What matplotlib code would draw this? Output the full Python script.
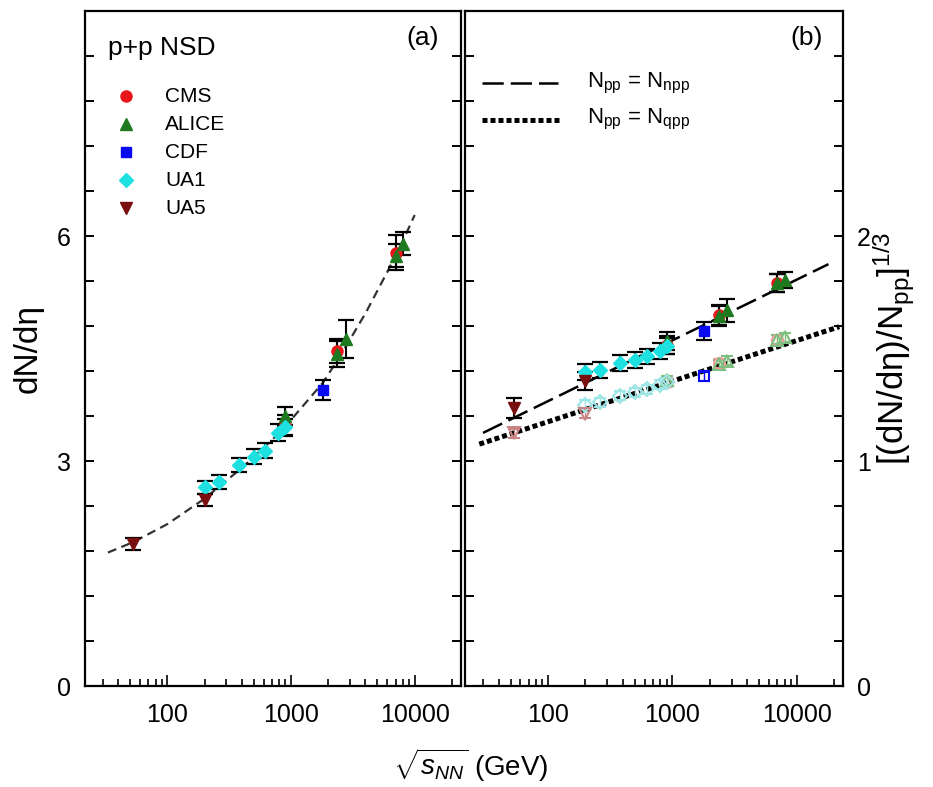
import numpy as np
import matplotlib
matplotlib.use('Agg')
import matplotlib.pyplot as plt
from matplotlib.ticker import MultipleLocator, LogLocator, FuncFormatter, NullFormatter

plt.rcParams['font.family'] = ['Liberation Sans', 'DejaVu Sans']
plt.rcParams['mathtext.fontset'] = 'custom'
plt.rcParams['mathtext.rm'] = 'Liberation Sans'
plt.rcParams['mathtext.it'] = 'Liberation Sans:italic'

# p+p NSD charged-particle density at mid-rapidity
cms_x = [900, 2360, 7000]
cms_y = [3.48, 4.47, 5.78]
cms_err = [0.13, 0.16, 0.23]

alice_x = [900, 2360, 2760, 7000, 8000]
alice_y = [3.60, 4.43, 4.63, 5.74, 5.90]
alice_err = [0.12, 0.17, 0.25, 0.15, 0.15]

cdf_x = [1800]
cdf_y = [3.95]
cdf_err = [0.13]

ua1_x = [200, 260, 380, 500, 620, 790, 900]
ua1_y = [2.65, 2.72, 2.95, 3.06, 3.14, 3.38, 3.45]
ua1_err = [0.09, 0.09, 0.09, 0.10, 0.10, 0.11, 0.11]

ua5_x = [53, 200]
ua5_y = [1.90, 2.48]
ua5_err = [0.08, 0.08]

# fit curve for panel (a)
fit_x = [33, 53, 100, 200, 400, 700, 1000, 1800, 2500, 4000, 6000, 8000, 10000]
fit_y = [1.78, 1.92, 2.16, 2.50, 2.91, 3.28, 3.55, 4.04, 4.40, 4.97, 5.52, 5.93, 6.28]

# panel (b): [(dN/deta)/Npp]^(1/3) with Npp = Nnpp (filled) and Npp = Nqpp (open)
cms_npp = [1.515, 1.648, 1.790]
cms_npp_err = [0.040, 0.045, 0.040]
alice_npp = [1.535, 1.645, 1.670, 1.790, 1.805]
alice_npp_err = [0.040, 0.045, 0.050, 0.040, 0.035]
cdf_npp = [1.578]
cdf_npp_err = [0.042]
ua1_npp = [1.395, 1.405, 1.434, 1.450, 1.465, 1.490, 1.510]
ua1_npp_err = [0.035, 0.035, 0.035, 0.035, 0.035, 0.035, 0.035]
ua5_npp = [1.235, 1.355]
ua5_npp_err = [0.045, 0.040]

cms_qpp = [1.350, 1.435, 1.540]
alice_qpp = [1.360, 1.430, 1.445, 1.540, 1.550]
cdf_qpp = [1.376]
ua1_qpp = [1.250, 1.262, 1.290, 1.305, 1.320, 1.340, 1.350]
ua5_qpp = [1.124, 1.210]

npp_line_x = [30, 18000]
npp_line_y = [1.125, 1.875]
qpp_line_x = [28, 22000]
qpp_line_y = [1.075, 1.597]

labels = ['CMS', 'ALICE', 'CDF', 'UA1', 'UA5']
colors = ['#e8161b', '#1f7a1f', '#0a0af0', '#1ee0e0', '#7a0f0f']
light = ['#f29a9a', '#7fbf7f', '#0a0af0', '#9ee6e6', '#c98585']
markers = ['o', '^', 's', 'D', 'v']
msizes = [8, 8.5, 7.5, 7, 8.5]

sets_a = [(cms_x, cms_y, cms_err), (alice_x, alice_y, alice_err), (cdf_x, cdf_y, cdf_err),
          (ua1_x, ua1_y, ua1_err), (ua5_x, ua5_y, ua5_err)]
sets_npp = [(cms_x, cms_npp, cms_npp_err), (alice_x, alice_npp, alice_npp_err),
            (cdf_x, cdf_npp, cdf_npp_err), (ua1_x, ua1_npp, ua1_npp_err),
            (ua5_x, ua5_npp, ua5_npp_err)]
sets_qpp = [(cms_x, cms_qpp), (alice_x, alice_qpp), (cdf_x, cdf_qpp),
            (ua1_x, ua1_qpp), (ua5_x, ua5_qpp)]

fig = plt.figure(figsize=(9.33, 7.87), dpi=100)
ax1 = fig.add_axes([0.0911, 0.1283, 0.4025, 0.8577])
ax2 = fig.add_axes([0.4984, 0.1283, 0.4050, 0.8577])


def style_axis(ax, ymax, major, minor, right_labels):
    ax.set_xscale('log')
    ax.set_xlim(21.5, 23500)
    ax.set_ylim(0, ymax)
    ax.xaxis.set_major_locator(LogLocator(base=10))
    ax.xaxis.set_minor_locator(LogLocator(base=10, subs=np.arange(2, 10)))
    ax.xaxis.set_major_formatter(FuncFormatter(lambda v, p: '%d' % round(v)))
    ax.xaxis.set_minor_formatter(NullFormatter())
    ax.yaxis.set_major_locator(MultipleLocator(major))
    ax.yaxis.set_minor_locator(MultipleLocator(minor))
    ax.yaxis.set_major_formatter(FuncFormatter(lambda v, p: '%d' % round(v) if v < ymax else ''))
    ax.tick_params(axis='x', which='major', direction='in', length=8, width=1.2,
                   labelsize=18, pad=12, top=False)
    ax.tick_params(axis='x', which='minor', direction='in', length=5, width=1.2, top=False)
    ax.tick_params(axis='y', which='both', direction='in', length=6.5, width=1.4,
                   left=True, right=True, labelsize=18, pad=10,
                   labelleft=not right_labels, labelright=right_labels)
    for s in ax.spines.values():
        s.set_linewidth(1.6)


style_axis(ax1, 9, 3, 0.6, False)
style_axis(ax2, 3, 1, 0.2, True)

# (a) multiplicity versus energy
ax1.plot(fit_x, fit_y, color='#333333', lw=1.6, dashes=(4, 2.5), zorder=2)
for (x, y, e), c, m, ms in zip(sets_a, colors, markers, msizes):
    ax1.errorbar(x, y, yerr=e, fmt=m, color=c, ms=ms, mec=c, ecolor='black',
                 elinewidth=1.5, capsize=6, capthick=1.6, zorder=3)

ax1.text(0.062, 0.945, 'p+p NSD', transform=ax1.transAxes, fontsize=19,
         ha='left', va='center')
for i, (lab, c, m, ms) in enumerate(zip(labels, colors, markers, msizes)):
    yy = 0.874 - i * 0.0415
    ax1.plot([0.109], [yy], marker=m, color=c, ms=ms, transform=ax1.transAxes,
             clip_on=False, zorder=4)
    ax1.text(0.213, yy, lab, transform=ax1.transAxes, fontsize=15,
             ha='left', va='center')
ax1.text(0.90, 0.96, '(a)', transform=ax1.transAxes, fontsize=19,
         ha='center', va='center')
ax1.set_ylabel('dN/dη', fontsize=24, labelpad=10)

# (b) scaled multiplicity
ax2.plot(npp_line_x, npp_line_y, color='black', lw=1.8, dashes=(8.5, 2.8), zorder=2)
ax2.plot(qpp_line_x, qpp_line_y, color='black', lw=3.6, dashes=(1.0, 0.6),
         dash_capstyle='butt', zorder=2)
for (x, y), c, lc, m, ms in zip(sets_qpp, colors, light, markers, msizes):
    ax2.errorbar(x, y, yerr=0.02, fmt=m, mfc='none', mec=lc, ms=ms, mew=1.5,
                 ecolor=lc, elinewidth=1.0, capsize=4, capthick=1.0, zorder=3)
for (x, y, e), c, m, ms in zip(sets_npp, colors, markers, msizes):
    ax2.errorbar(x, y, yerr=e, fmt=m, color=c, ms=ms, mec=c, ecolor='black',
                 elinewidth=1.5, capsize=6, capthick=1.6, zorder=4)

ax2.plot([0.045, 0.246], [0.893, 0.893], color='black', lw=1.8, dashes=(8.5, 2.8),
         transform=ax2.transAxes)
ax2.plot([0.045, 0.25], [0.839, 0.839], color='black', lw=3.6, dashes=(1.0, 0.6),
         dash_capstyle='butt', transform=ax2.transAxes)
ax2.text(0.323, 0.893, r'$\mathregular{N_{pp}}$ = $\mathregular{N_{npp}}$',
         transform=ax2.transAxes, fontsize=16, ha='left', va='center')
ax2.text(0.323, 0.839, r'$\mathregular{N_{pp}}$ = $\mathregular{N_{qpp}}$',
         transform=ax2.transAxes, fontsize=16, ha='left', va='center')
ax2.text(0.905, 0.96, '(b)', transform=ax2.transAxes, fontsize=19,
         ha='center', va='center')
ax2.yaxis.set_label_position('right')
ax2.set_ylabel(r'[(dN/dη)/N$_\mathregular{pp}$]$^\mathregular{1/3}$', fontsize=25,
               rotation=90, labelpad=0)

fig.text(0.505, 0.028, r'$\sqrt{s_{NN}}$ (GeV)', fontsize=20, ha='center', va='center')

fig.savefig('out.png', dpi=100)
